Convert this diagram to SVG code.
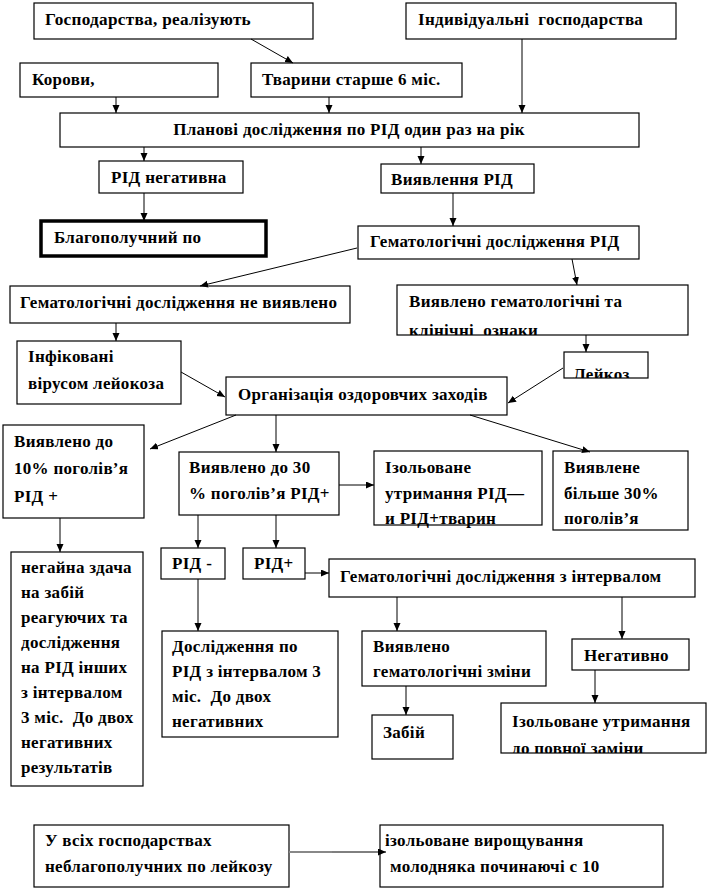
<svg xmlns="http://www.w3.org/2000/svg" width="708" height="891" viewBox="0 0 708 891">
<style>
  .b { fill: #ffffff; stroke: #000000; stroke-width: 1.2; }
  .thick { fill: #ffffff; stroke: #000000; stroke-width: 3.5; }
  text { font-family: 'Liberation Serif', 'DejaVu Serif', serif; font-size: 17px; font-weight: bold; letter-spacing: 0.3px; fill: #000000; white-space: pre; }
  .c line { stroke: #000000; stroke-width: 1; marker-end: url(#arr); }
</style>
<defs>
  <marker id="arr" markerUnits="userSpaceOnUse" markerWidth="9" markerHeight="8" refX="8" refY="3.5" orient="auto">
    <path d="M0,0 L8,3.5 L0,7 z" fill="#000000"/>
  </marker>
  <clipPath id="clip11"><rect x="397" y="285" width="291" height="50"/></clipPath>
  <clipPath id="clip13"><rect x="564" y="352" width="84" height="26"/></clipPath>
  <clipPath id="clip27"><rect x="501" y="703" width="205" height="50"/></clipPath>
</defs>
<rect width="708" height="891" fill="#ffffff"/>

<g id="n1"><rect class="b" x="34" y="3" width="279" height="36"/><text x="45" y="25" textLength="206" lengthAdjust="spacingAndGlyphs">Господарства, реалізують</text></g>
<g id="n2"><rect class="b" x="406" y="3" width="270" height="36"/><text x="418" y="25">Індивідуальні  господарства</text></g>
<g id="n3"><rect class="b" x="20" y="63" width="198" height="34"/><text x="32" y="85">Корови,</text></g>
<g id="n4"><rect class="b" x="251" y="63" width="211" height="34"/><text x="262" y="85">Тварини старше 6 міс.</text></g>
<g id="n5"><rect class="b" x="60" y="113" width="579" height="34"/><text x="349" y="135" text-anchor="middle">Планові дослідження по РІД один раз на рік</text></g>
<g id="n6"><rect class="b" x="99" y="161" width="144" height="32"/><text x="111" y="183">РІД негативна</text></g>
<g id="n7"><rect class="b" x="381" y="164" width="153" height="29"/><text x="391" y="185">Виявлення РІД</text></g>
<g id="n8"><rect class="thick" x="41" y="221" width="225" height="35"/><text x="54" y="243">Благополучний по</text></g>
<g id="n9"><rect class="b" x="358" y="226" width="281" height="33"/><text x="370" y="247">Гематологічні дослідження РІД</text></g>
<g id="n10"><rect class="b" x="10" y="286" width="340" height="37"/><text x="20" y="308">Гематологічні дослідження не виявлено</text></g>
<g id="n11"><rect class="b" x="397" y="285" width="291" height="50"/><text x="409" y="307">Виявлено гематологічні та</text><text x="409" y="336" clip-path="url(#clip11)">клінічні  ознаки</text></g>
<g id="n12"><rect class="b" x="17" y="341" width="164" height="63"/><text x="28" y="362">Інфіковані</text><text x="28" y="389">вірусом лейокоза</text></g>
<g id="n13"><rect class="b" x="564" y="352" width="84" height="26"/><text x="573" y="379.5" clip-path="url(#clip13)">Лейкоз</text></g>
<g id="n14"><rect class="b" x="226" y="377" width="281" height="38"/><text x="238" y="400">Організація оздоровчих заходів</text></g>
<g id="n15"><rect class="b" x="3" y="425" width="141" height="93"/><text x="14" y="447">Виявлено до</text><text x="14" y="474">10% поголів’я</text><text x="14" y="502">РІД +</text></g>
<g id="n16"><rect class="b" x="179" y="452" width="160" height="63"/><text x="189" y="473">Виявлено до 30</text><text x="189" y="499">% поголів’я РІД+</text></g>
<g id="n17"><rect class="b" x="374" y="451" width="168" height="74"/><text x="385" y="473">Ізольоване</text><text x="385" y="499">утримання РІД—</text><text x="385" y="524">и РІД+тварин</text></g>
<g id="n18"><rect class="b" x="553" y="451" width="135" height="79"/><text x="564" y="473">Виявлене</text><text x="564" y="499">більше 30%</text><text x="564" y="524">поголів’я</text></g>
<g id="n19"><rect class="b" x="11" y="552" width="132" height="234"/>
  <text x="21" y="573">негайна здача</text><text x="21" y="598">на забій</text><text x="21" y="623">реагуючих та</text><text x="21" y="648">дослідження</text><text x="21" y="673">на РІД інших</text><text x="21" y="698">з інтервалом</text><text x="21" y="723">3 міс.  До двох</text><text x="21" y="748">негативних</text><text x="21" y="773">результатів</text></g>
<g id="n20"><rect class="b" x="161" y="548" width="64" height="31"/><text x="172" y="569">РІД -</text></g>
<g id="n21"><rect class="b" x="243" y="548" width="62" height="31"/><text x="254" y="569">РІД+</text></g>
<g id="n22"><rect class="b" x="329" y="559" width="366" height="38"/><text x="340" y="582">Гематологічні дослідження з інтервалом</text></g>
<g id="n23"><rect class="b" x="162" y="631" width="176" height="106"/><text x="172" y="652">Дослідження по</text><text x="172" y="677">РІД з інтервалом 3</text><text x="172" y="702">міс.  До двох</text><text x="172" y="727">негативних</text></g>
<g id="n24"><rect class="b" x="362" y="631" width="184" height="55"/><text x="373" y="652">Виявлено</text><text x="373" y="677">гематологічні зміни</text></g>
<g id="n25"><rect class="b" x="572" y="639" width="117" height="31"/><text x="584" y="661">Негативно</text></g>
<g id="n26"><rect class="b" x="372" y="715" width="81" height="44"/><text x="383" y="738">Забій</text></g>
<g id="n27"><rect class="b" x="501" y="703" width="205" height="50"/><text x="512" y="727">Ізольоване утримання</text><text x="512" y="754" clip-path="url(#clip27)">до повної заміни</text></g>
<g id="n28"><rect class="b" x="34" y="825" width="255" height="62"/><text x="45" y="846">У всіх господарствах</text><text x="45" y="872">неблагополучних по лейкозу</text></g>
<g id="n29"><rect class="b" x="380" y="825" width="283" height="62"/><text x="385" y="846">ізольоване вирощування</text><text x="390" y="872">молодняка починаючі с 10</text></g>

<g id="connectors" class="c">
  <line x1="251" y1="39" x2="293" y2="63"/>
  <line x1="522" y1="39" x2="522" y2="113"/>
  <line x1="116" y1="97" x2="116" y2="113"/>
  <line x1="329" y1="97" x2="329" y2="113"/>
  <line x1="144" y1="147" x2="144" y2="161"/>
  <line x1="421" y1="147" x2="421" y2="164"/>
  <line x1="144" y1="193" x2="144" y2="221"/>
  <line x1="453" y1="193" x2="453" y2="226"/>
  <line x1="357" y1="248" x2="200" y2="286"/>
  <line x1="572" y1="259" x2="577" y2="285"/>
  <line x1="116" y1="323" x2="116" y2="341"/>
  <line x1="586" y1="335" x2="586" y2="352"/>
  <line x1="181" y1="372" x2="225" y2="397"/>
  <line x1="563" y1="368" x2="508" y2="403"/>
  <line x1="236" y1="415" x2="150" y2="449"/>
  <line x1="276" y1="415" x2="276" y2="452"/>
  <line x1="470" y1="415" x2="590" y2="452"/>
  <line x1="339" y1="485" x2="374" y2="485"/>
  <line x1="60" y1="518" x2="60" y2="552"/>
  <line x1="198" y1="515" x2="198" y2="548"/>
  <line x1="276" y1="515" x2="276" y2="548"/>
  <line x1="305" y1="573" x2="329" y2="573"/>
  <line x1="198" y1="579" x2="198" y2="631"/>
  <line x1="397" y1="597" x2="397" y2="631"/>
  <line x1="622" y1="597" x2="622" y2="639"/>
  <line x1="406" y1="686" x2="406" y2="715"/>
  <line x1="595" y1="670" x2="595" y2="703"/>
  <path d="M289,852 L332,852" stroke="#888888" stroke-width="2" fill="none"/>
  <line x1="332" y1="852" x2="386" y2="852"/>
</g>
</svg>
